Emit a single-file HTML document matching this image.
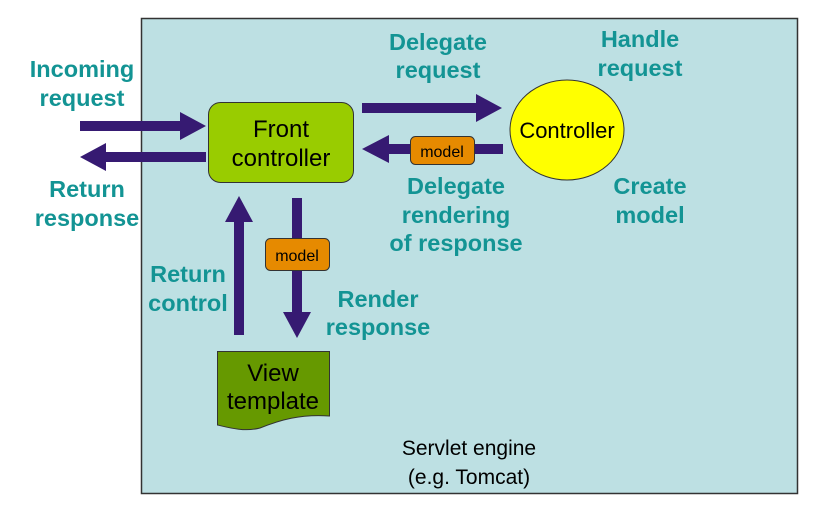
<!DOCTYPE html>
<html><head><style>body{margin:0;background:#fff}</style></head><body>
<svg width="835" height="510" xmlns="http://www.w3.org/2000/svg" font-family="Liberation Sans, sans-serif">
<rect x="141.5" y="18.5" width="656" height="475" fill="#bde0e3" stroke="#333" stroke-width="1.5"/>
<g fill="#139494" font-weight="bold" font-size="23.5" text-anchor="middle">
<text x="82" y="77">Incoming</text><text x="82" y="106">request</text>
<text x="87" y="197">Return</text><text x="87" y="226">response</text>
<text x="438" y="50">Delegate</text><text x="438" y="78">request</text>
<text x="640" y="47">Handle</text><text x="640" y="76">request</text>
<text x="456" y="194">Delegate</text><text x="456" y="223">rendering</text><text x="456" y="251">of response</text>
<text x="650" y="194">Create</text><text x="650" y="223">model</text>
<text x="188" y="282">Return</text><text x="188" y="311">control</text>
<text x="378" y="307">Render</text><text x="378" y="335">response</text>
</g>
<g fill="#361a72">
<rect x="80" y="121" width="102" height="10"/><polygon points="180,112 206,126 180,140"/>
<rect x="105" y="152" width="101" height="10"/><polygon points="106,143 80,157 106,171"/>
<rect x="362" y="103" width="115" height="10"/><polygon points="476,94 502,108 476,122"/>
<rect x="388" y="144" width="115" height="10"/><polygon points="389,135 362,149 389,163"/>
<rect x="292" y="198" width="10" height="115"/><polygon points="283,312 297,338 311,312"/>
<rect x="234" y="220" width="10" height="115"/><polygon points="225,222 239,196 253,222"/>
</g>
<rect x="208.5" y="102.5" width="145" height="80" rx="12" fill="#99cc00" stroke="#333"/>
<text x="281" y="137" font-size="24" text-anchor="middle">Front</text>
<text x="281" y="166" font-size="24" text-anchor="middle">controller</text>
<ellipse cx="567" cy="130" rx="57" ry="50" fill="#ffff00" stroke="#333"/>
<text x="567" y="138" font-size="22" text-anchor="middle">Controller</text>
<rect x="410.5" y="136.5" width="64" height="28" rx="5" fill="#e68a00" stroke="#333"/>
<text x="442" y="157" font-size="16" text-anchor="middle">model</text>
<rect x="265.5" y="238.5" width="64" height="32" rx="5" fill="#e68a00" stroke="#333"/>
<text x="297" y="261" font-size="16" text-anchor="middle">model</text>
<path d="M217.5 351.5 H329.5 V416 C300 414 280 420 260 428 C245 432 230 428 217.5 425 Z" fill="#669900" stroke="#333"/>
<text x="273" y="381" font-size="24" text-anchor="middle">View</text>
<text x="273" y="409" font-size="24" text-anchor="middle">template</text>
<text x="469" y="455" font-size="21" text-anchor="middle">Servlet engine</text>
<text x="469" y="484" font-size="21" text-anchor="middle">(e.g. Tomcat)</text>
</svg>
</body></html>
